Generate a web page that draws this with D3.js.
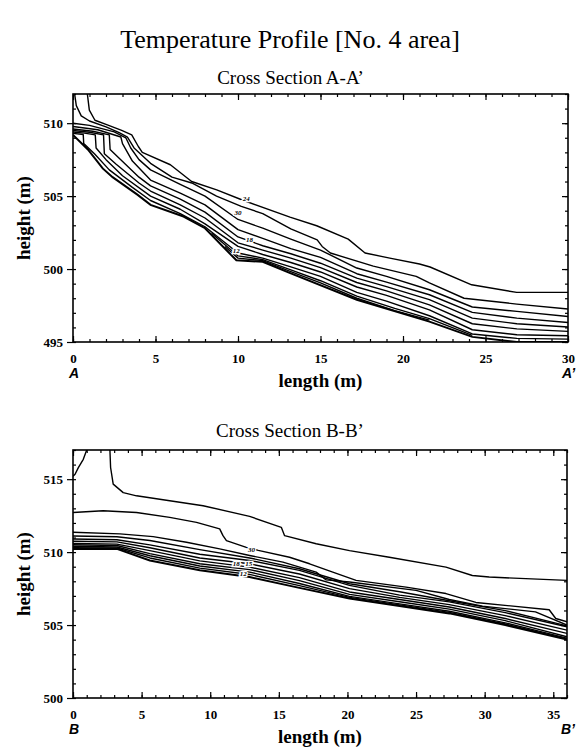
<!DOCTYPE html>
<html>
<head>
<meta charset="utf-8">
<script src="https://cdn.jsdelivr.net/npm/d3@7/dist/d3.min.js"></script>
<style>
    body { margin: 0; background: #fff; }
</style>
</head>
<body>
<script>
// ---- Cross Section A-A' (length m, height m) ----
var aTicksX = [0, 5, 10, 15, 20, 25, 30];
var aTicksY = [495, 500, 505, 510];

var aLine1 = [[0.87,512],[0.99,510.9],[1.33,510.2],[2.04,509.9],[2.95,509.5],[3.56,509.2],[3.96,508.4],[4.2,508.0],[5.9,507.15],[7.19,506.0],[8.71,505.43],[10.22,504.75],[13.15,503.56],[14.77,502.97],[16.68,502.05],[17.7,501.1],[19.2,500.75],[21.0,500.35],[21.64,500.14],[24.16,498.92],[26.89,498.4],[30,498.4]];
var aLine2 = [[0.1,512],[0.2,511.2],[0.5,510.5],[1.0,510.15],[2.0,509.75],[2.8,509.35],[3.3,509.05],[3.7,508.3],[4.7,507.25],[6.0,506.3],[7.2,505.9],[8.7,505.0],[10.2,504.3],[11.5,503.8],[13.2,502.75],[14.8,502.0],[15.1,501.55],[15.6,501.1],[18.2,500.2],[20.8,499.5],[21.6,499.05],[23.7,498.0],[26.9,497.6],[30,497.26]];
var aLine3 = [[0,510.0],[1.0,509.85],[2.5,509.4],[3.2,509.0],[3.5,508.3],[4.0,507.5],[4.7,506.8],[6.5,505.8],[8.0,505.0],[10.0,503.4],[11.5,502.8],[13.2,502.05],[15.0,501.3],[17.2,500.07],[19.0,499.5],[21.6,498.58],[24.2,497.4],[26.9,497.1],[30,496.75]];
var aLine4 = [[0,509.77],[1.5,509.55],[2.9,509.05],[3.0,508.6],[3.6,507.4],[4.7,506.1],[6.5,505.2],[8.0,504.4],[10.0,502.7],[11.5,502.1],[13.2,501.4],[15.0,500.8],[17.2,499.68],[19.0,499.1],[21.6,498.24],[24.2,497.03],[26.9,496.64],[30,496.34]];
var aLine5 = [[0,509.6],[1.2,509.45],[2.2,509.2],[2.25,508.2],[2.8,507.6],[4.0,506.3],[4.7,505.7],[6.5,504.8],[8.0,503.9],[10.0,502.2],[11.5,501.6],[13.2,501.05],[15.0,500.4],[17.2,499.38],[19.0,498.8],[21.6,497.9],[24.2,496.64],[26.9,496.25],[30,496.03]];
var aLine6 = [[0,509.5],[1.0,509.38],[1.85,509.2],[1.9,507.9],[2.6,507.2],[4.0,505.9],[4.7,505.35],[6.5,504.4],[8.0,503.5],[10.0,501.8],[11.5,501.3],[13.2,500.75],[15.0,500.1],[17.2,499.08],[19.0,498.5],[21.6,497.55],[24.2,496.25],[26.9,495.9],[30,495.73]];
var aLine7 = [[0,509.4],[0.7,509.32],[1.35,509.2],[1.4,508.3],[2.0,507.5],[3.0,506.4],[4.7,505.0],[6.5,504.1],[8.0,503.1],[10.0,501.55],[11.5,501.0],[13.2,500.45],[15.0,499.8],[17.2,498.77],[19.0,498.2],[21.6,497.2],[24.2,495.84],[26.9,495.5],[30,495.43]];
var aLine8 = [[0,509.3],[0.62,509.22],[0.65,508.6],[1.3,507.9],[2.2,506.8],[3.6,505.6],[4.7,504.7],[6.5,503.8],[8.0,502.9],[10.0,501.1],[11.5,500.75],[13.2,500.15],[15.0,499.5],[17.2,498.4],[19.0,497.8],[21.6,496.8],[24.2,495.55],[26.9,495.25],[30,495.2]];
var aLine9 = [[8.4,502.45],[10,500.9],[11.5,500.65],[13.2,499.95],[15,499.2],[17.2,498.15],[19.5,497.3],[21.6,496.6],[24.2,495.45]];
var aLine10 = [[9.2,501.55],[10,500.75],[11.5,500.58],[13.2,499.82],[15,499.05],[17.2,498.0],[19.5,497.15],[21.6,496.5]];
var aSurface = [[0,509.2],[0.9,508.2],[1.8,506.9],[2.4,506.3],[3.9,505.1],[4.7,504.4],[6.7,503.6],[8.0,502.8],[9.9,500.6],[11.5,500.5],[13.2,499.7],[17.2,497.9],[21.6,496.4],[24.2,495.35],[26.9,495.0],[30,495.0]];
var aLabels = [['24', 10.5, 504.8], ['30', 10.0, 503.9], ['18', 10.7, 502.05], ['12', 9.9, 501.3]];

// ---- Cross Section B-B' ----
var bTicksX = [0, 5, 10, 15, 20, 25, 30, 35];
var bTicksY = [500, 505, 510, 515];

var bCorner = [[1.0,517],[0.75,516.36],[0.39,515.79],[0.15,515.34],[0,515.2]];
var bLine1 = [[2.69,517],[2.74,515.8],[2.93,514.66],[3.66,514.08],[4.63,513.86],[7.05,513.52],[9.48,513.18],[12.87,512.45],[15.18,511.7],[15.42,511.13],[17.72,510.57],[20.15,510.1],[23.05,509.65],[27.18,508.97],[29.1,508.4],[30.33,508.29],[36,508.06]];
var bLine2 = [[0,512.72],[2.2,512.84],[4.63,512.72],[7.05,512.38],[9.0,512.04],[10.69,511.59],[10.93,511.13],[11.18,510.79],[12.63,510.33],[13.5,510.12],[15.78,509.65],[17.24,509.2],[18.93,508.63],[20.63,508.06],[24.27,507.6],[27.18,507.16],[29.36,506.55],[34.7,506.05],[35.18,505.45],[36,505.22]];
var bLine3 = [[0,511.36],[3.42,511.25],[5.84,511.06],[8.27,510.68],[10.69,510.22],[12.87,509.77],[15.3,509.31],[17.72,508.63],[18.45,508.1],[20.15,507.95],[25.0,507.38],[27.42,506.75],[29.84,506.3],[33.7,505.9],[36,505.0]];
var bBand0 = [[0,511.1],[3.2,511.05],[5.6,510.8],[9.24,510.17],[12.87,509.6],[16.5,508.86],[20.15,507.83],[23.8,507.28],[27.42,506.67],[31.5,505.99],[36,504.94]];
var bBand1 = [[0,510.9],[3.2,510.85],[5.6,510.5],[9.24,509.85],[12.87,509.43],[16.5,508.75],[20.15,507.72],[23.8,507.05],[27.42,506.59],[31.5,505.85],[36,504.88]];
var bBand2 = [[0,510.75],[3.2,510.7],[5.6,510.3],[9.24,509.6],[12.87,509.2],[16.5,508.5],[20.15,507.5],[23.8,506.9],[27.42,506.4],[31.5,505.65],[36,504.65]];
var bBand3 = [[0,510.6],[3.2,510.55],[5.6,510.1],[9.24,509.4],[12.87,508.97],[16.5,508.25],[20.15,507.27],[23.8,506.75],[27.42,506.24],[31.5,505.45],[36,504.43]];
var bBand4 = [[0,510.5],[3.2,510.45],[5.6,509.9],[9.24,509.2],[12.87,508.8],[16.5,508.05],[20.15,507.1],[23.8,506.6],[27.42,506.09],[31.5,505.3],[36,504.2]];
var bBand5 = [[0,510.4],[3.2,510.35],[5.6,509.75],[9.24,509.05],[12.87,508.63],[16.5,507.85],[20.15,506.97],[23.8,506.45],[27.42,505.95],[31.5,505.15],[36,504.1]];
var bBand6 = [[0,510.3],[3.2,510.28],[5.6,509.6],[9.24,508.9],[12.87,508.47],[16.5,507.7],[20.15,506.9],[23.8,506.38],[27.42,505.87],[31.5,505.07],[36,504.05]];
var bSurface = [[0,510.22],[3.2,510.22],[5.6,509.43],[9.24,508.75],[12.87,508.29],[16.5,507.55],[20.15,506.82],[23.8,506.3],[27.42,505.8],[31.5,505.0],[36,504.0]];
var bLabels = [['30', 13.0, 510.2], ['18', 11.9, 509.25], ['15', 12.8, 509.2], ['12', 12.4, 508.55]];

var svg = d3.select('body').append('svg')
    .attr('width', 579)
    .attr('height', 749)
    .style('font-family', '"Liberation Serif", "Times New Roman", serif');

svg.append('text')
    .attr('x', 290)
    .attr('y', 48)
    .attr('text-anchor', 'middle')
    .style('font-size', '26px')
    .text('Temperature Profile [No. 4 area]');

function ticks(g, axis, transform) {
    var a = g.append('g')
        .attr('transform', transform || null)
        .call(axis);
    a.select('.domain').remove();
    a.attr('font-family', null).attr('font-size', null);
    a.selectAll('line').attr('stroke-width', 1.2);
    return a;
}

function drawSection(opt) {
    var w = opt.width, h = opt.height;
    var g = svg.append('g')
        .attr('transform', 'translate(' + opt.left + ',' + opt.top + ')');

    var x = d3.scaleLinear().domain([0, opt.xMax]).range([0, w]);
    var y = d3.scaleLinear().domain(opt.yDomain).range([h, 0]);

    svg.append('text')
        .attr('x', opt.left + w / 2 - 30)
        .attr('y', opt.titleY)
        .attr('text-anchor', 'middle')
        .style('font-size', '19px')
        .text(opt.title);

    var clipId = 'clip-' + opt.id;
    g.append('clipPath').attr('id', clipId)
        .append('rect').attr('width', w).attr('height', h);

    var line = d3.line()
        .x(d => x(d[0]))
        .y(d => y(d[1]));

    var plot = g.append('g').attr('clip-path', 'url(#' + clipId + ')');

    plot.selectAll('.iso')
        .data(opt.lines)
        .enter().append('path')
        .attr('class', 'iso')
        .attr('fill', 'none')
        .attr('stroke', '#000')
        .attr('stroke-width', 1.4)
        .attr('stroke-linejoin', 'round')
        .attr('d', line);

    plot.append('path')
        .datum(opt.surface)
        .attr('fill', 'none')
        .attr('stroke', '#000')
        .attr('stroke-width', 2)
        .attr('d', line);

    // little contour values, white halo breaks the line underneath
    plot.selectAll('.clab')
        .data(opt.labels)
        .enter().append('text')
        .attr('class', 'clab')
        .attr('x', d => x(d[1]))
        .attr('y', d => y(d[2]))
        .attr('dy', '0.35em')
        .attr('text-anchor', 'middle')
        .style('font-size', '7px')
        .style('font-weight', 'bold')
        .style('font-style', 'italic')
        .attr('stroke', '#fff')
        .attr('stroke-width', 2.5)
        .attr('paint-order', 'stroke')
        .text(d => d[0]);

    var minX = d3.range(0, opt.xMax + 1),
        minY = d3.range(opt.yDomain[0], opt.yDomain[1] + 1);

    // minor ticks every metre, pointing in on all sides
    ticks(g, d3.axisBottom(x).tickValues(minX).tickSize(-3).tickFormat(''), 'translate(0,' + h + ')');
    ticks(g, d3.axisTop(x).tickValues(minX).tickSize(-3).tickFormat(''));
    ticks(g, d3.axisLeft(y).tickValues(minY).tickSize(-3).tickFormat(''));
    ticks(g, d3.axisRight(y).tickValues(minY).tickSize(-3).tickFormat(''), 'translate(' + w + ',0)');

    ticks(g, d3.axisTop(x).tickValues(opt.ticksX).tickSize(-6).tickFormat(''));
    ticks(g, d3.axisRight(y).tickValues(opt.ticksY).tickSize(-6).tickFormat(''), 'translate(' + w + ',0)');

    ticks(g, d3.axisBottom(x).tickValues(opt.ticksX).tickSize(-6).tickPadding(12), 'translate(0,' + h + ')')
        .style('font-size', '13px')
        .style('font-weight', 'bold');
    ticks(g, d3.axisLeft(y).tickValues(opt.ticksY).tickSize(6).tickPadding(4))
        .style('font-size', '13px')
        .style('font-weight', 'bold');

    g.append('rect')
        .attr('width', w)
        .attr('height', h)
        .attr('fill', 'none')
        .attr('stroke', '#000')
        .attr('stroke-width', 1.6);

    g.append('text')
        .attr('x', w / 2)
        .attr('y', h + 45)
        .attr('text-anchor', 'middle')
        .style('font-size', '19px')
        .style('font-weight', 'bold')
        .text('length (m)');

    g.append('text')
        .attr('transform', 'translate(' + (-43) + ',' + (h / 2) + ') rotate(-90)')
        .attr('text-anchor', 'middle')
        .style('font-size', '19px')
        .style('font-weight', 'bold')
        .text('height (m)');

    g.selectAll('.end')
        .data(opt.ends)
        .enter().append('text')
        .attr('class', 'end')
        .attr('x', (d, i) => i ? w - 6 : -4)
        .attr('y', h + 36)
        .style('font-family', '"Liberation Sans", Arial, sans-serif')
        .style('font-size', '14px')
        .style('font-weight', 'bold')
        .style('font-style', 'italic')
        .text(d => d);
}

drawSection({
    id: 'a',
    left: 73, top: 94, width: 495, height: 248,
    xMax: 30, yDomain: [495, 512],
    ticksX: aTicksX, ticksY: aTicksY,
    title: 'Cross Section A-A\u2019', titleY: 84,
    lines: [aLine1, aLine2, aLine3, aLine4, aLine5, aLine6, aLine7, aLine8, aLine9, aLine10],
    surface: aSurface,
    labels: aLabels,
    ends: ['A', 'A\u2019']
});

drawSection({
    id: 'b',
    left: 73, top: 450, width: 494, height: 248,
    xMax: 36, yDomain: [500, 517],
    ticksX: bTicksX, ticksY: bTicksY,
    title: 'Cross Section B-B\u2019', titleY: 437,
    lines: [bCorner, bLine1, bLine2, bLine3, bBand0, bBand1, bBand2, bBand3, bBand4, bBand5, bBand6],
    surface: bSurface,
    labels: bLabels,
    ends: ['B', 'B\u2019']
});
</script>
</body>
</html>
